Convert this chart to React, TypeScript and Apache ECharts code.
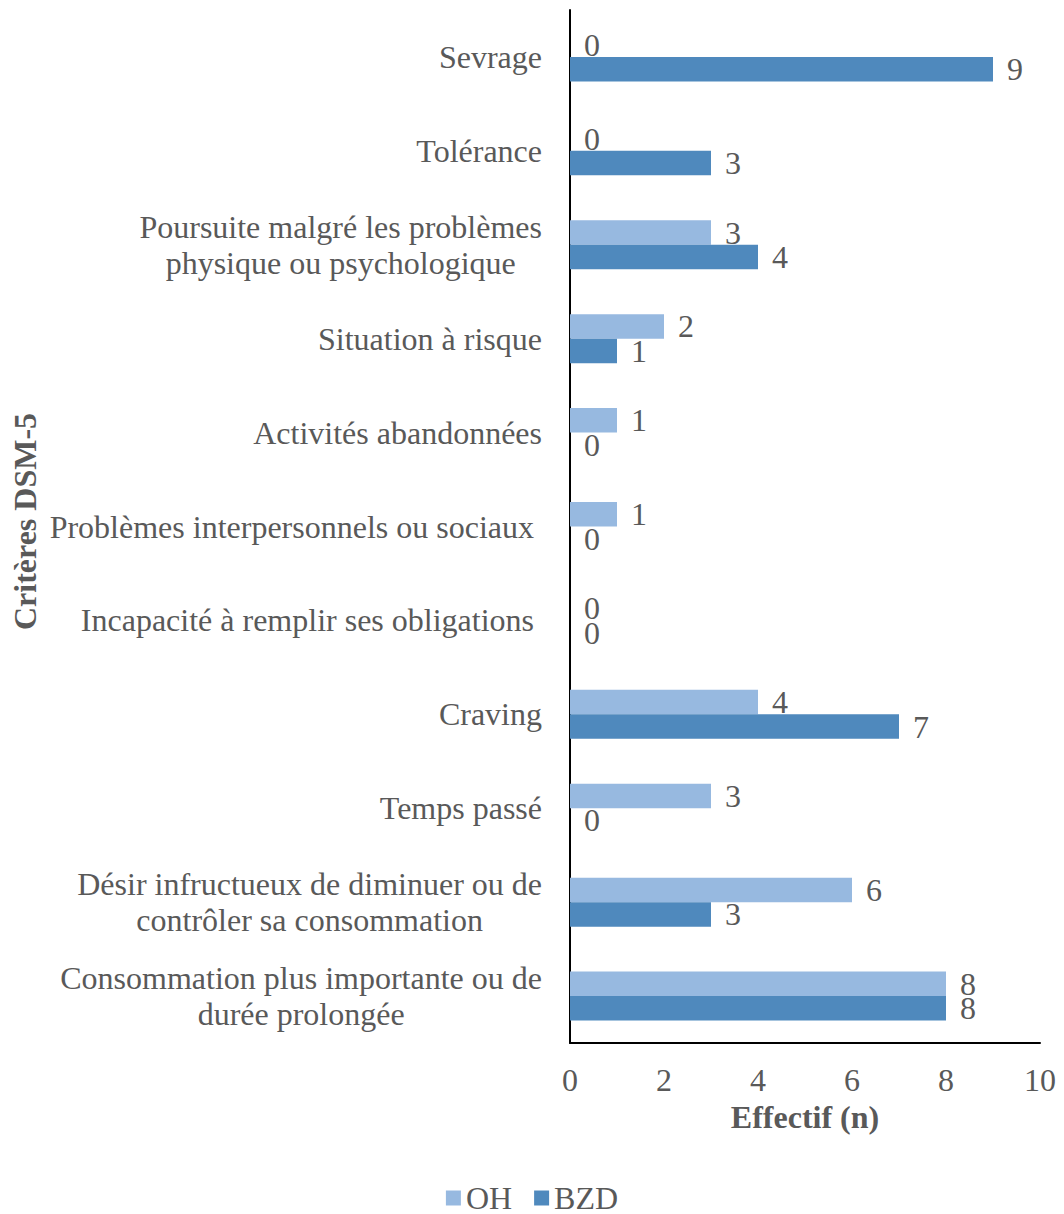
import React, { useEffect, useRef } from "react";
import * as echarts from "echarts";

// DSM-5 criteria, listed from the bottom of the axis to the top
const categories = [
  "Consommation plus importante ou de\ndurée prolongée",
  "Désir infructueux de diminuer ou de\ncontrôler sa consommation",
  "Temps passé",
  "Craving",
  "Incapacité à remplir ses obligations ",
  "Problèmes interpersonnels ou sociaux ",
  "Activités abandonnées",
  "Situation à risque",
  "Poursuite malgré les problèmes\nphysique ou psychologique",
  "Tolérance",
  "Sevrage",
];

const ohValues = [8, 6, 3, 4, 0, 1, 1, 2, 3, 0, 0];
const bzdValues = [8, 3, 0, 7, 0, 0, 0, 1, 4, 3, 9];

const seriesNames = ["OH", "BZD"];
const xTicks = { min: 0, max: 10, interval: 2 };

const FONT = "'Liberation Serif', 'Times New Roman', serif";
const TEXT = "#595959";
const OH_COLOR = "#97B9E0";
const BZD_COLOR = "#4F89BD";
const FS = 32;

export default function App() {
  const ref = useRef<HTMLDivElement>(null);

  useEffect(() => {
    document.body.style.margin = "0";
    if (!ref.current) return;
    const chart = echarts.init(ref.current, undefined, { renderer: "svg" });

    const labelStyle = {
      show: true,
      position: "right",
      distance: 14,
      fontSize: FS,
      fontFamily: FONT,
      color: TEXT,
    };

    chart.setOption({
      animation: false,
      textStyle: { fontFamily: FONT, color: TEXT },
      grid: { left: 570, right: 24, top: 10, bottom: 171, containLabel: false },
      legend: {
        data: seriesNames,
        top: 1182,
        left: "center",
        icon: "rect",
        itemWidth: 15,
        itemHeight: 15,
        itemGap: 22,
        padding: 0,
        textStyle: { fontSize: FS, fontFamily: FONT, color: TEXT, lineHeight: 28 },
      },
      xAxis: {
        type: "value",
        min: xTicks.min,
        max: xTicks.max,
        interval: xTicks.interval,
        axisLine: { show: true, lineStyle: { color: "#000", width: 2 } },
        axisTick: { show: false },
        splitLine: { show: false },
        axisLabel: { fontSize: FS, fontFamily: FONT, color: TEXT, margin: 21 },
        name: "Effectif (n)",
        nameLocation: "middle",
        nameGap: 58,
        nameTextStyle: { fontSize: FS, fontWeight: "bold", fontFamily: FONT, color: TEXT },
      },
      yAxis: {
        type: "category",
        data: categories,
        axisLine: { show: true, lineStyle: { color: "#000", width: 2 } },
        axisTick: { show: false },
        axisLabel: {
          margin: 28,
          formatter: (v: string) =>
            v
              .split("\n")
              .map((l) => `{c|${l}}`)
              .join("\n"),
          rich: {
            c: {
              fontSize: FS,
              fontFamily: FONT,
              color: TEXT,
              align: "center",
              lineHeight: 36,
            },
          },
        },
        name: "Critères DSM-5",
        nameLocation: "middle",
        nameGap: 529,
        nameRotate: 90,
        nameTextStyle: {
          fontSize: FS,
          fontWeight: "bold",
          fontFamily: FONT,
          color: TEXT,
          padding: [0, 0, 0, 10],
        },
      },
      series: [
        {
          name: "OH",
          type: "bar",
          data: ohValues,
          barWidth: 24.5,
          barGap: "0%",
          itemStyle: { color: OH_COLOR },
          label: labelStyle,
        },
        {
          name: "BZD",
          type: "bar",
          data: bzdValues,
          barWidth: 24.5,
          barGap: "0%",
          itemStyle: { color: BZD_COLOR },
          label: labelStyle,
        },
      ],
    });

    return () => chart.dispose();
  }, []);

  return (
    <div
      ref={ref}
      style={{ position: "absolute", left: 0, top: 0, width: 1064, height: 1214 }}
    />
  );
}
